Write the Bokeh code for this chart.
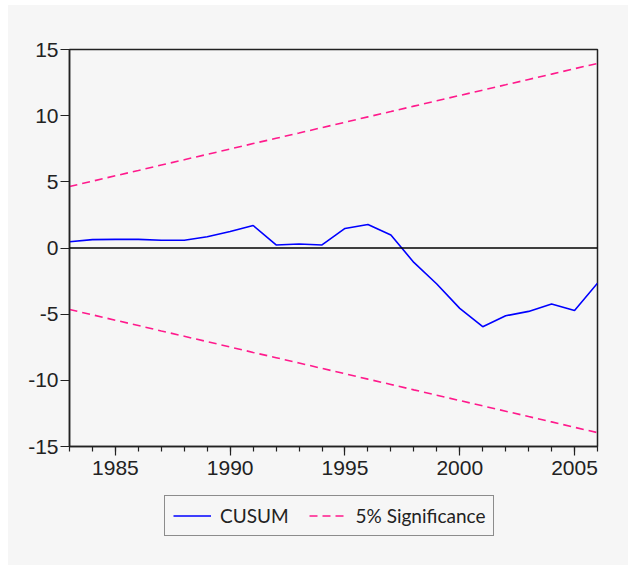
from bokeh.plotting import figure
from bokeh.models import (Legend, LegendItem, FixedTicker, SingleIntervalTicker,
                          Span, Range1d, PrintfTickFormatter)
from bokeh.layouts import column
from bokeh.embed import file_html
from bokeh.resources import INLINE

years = list(range(1983, 2007))
cusum = [0.47, 0.63, 0.65, 0.65, 0.58, 0.58, 0.85, 1.25, 1.70, 0.23, 0.30, 0.23,
         1.48, 1.78, 0.98, -1.09, -2.72, -4.56, -5.95, -5.12, -4.79, -4.23, -4.73, -2.66]
upper = [4.65, 5.05, 5.46, 5.86, 6.27, 6.67, 7.08, 7.48, 7.89, 8.29, 8.69, 9.10,
         9.50, 9.91, 10.31, 10.72, 11.12, 11.53, 11.93, 12.33, 12.74, 13.14, 13.55, 13.95]
lower = [-v for v in upper]
y_ticks = [-15, -10, -5, 0, 5, 10, 15]

BG = "#f6f6f6"
PINK = "#ff1a8c"
BLUE = "#0000ff"

p = figure(width=620, height=481, output_backend="svg", toolbar_location=None,
           x_range=Range1d(1983, 2006), y_range=Range1d(-15, 15),
           background_fill_color=BG, border_fill_color=BG,
           min_border_left=61, min_border_right=31, min_border_top=44, min_border_bottom=40)
p.grid.visible = False
p.outline_line_color = "#222222"
p.outline_line_width = 1.5

p.add_layout(Span(location=0, dimension="width", line_color="black", line_width=1.5))

p.line(years, cusum, line_color=BLUE, line_width=1.6)
p.line(years, upper, line_color=PINK, line_width=1.6, line_dash="8 5")
p.line(years, lower, line_color=PINK, line_width=1.6, line_dash="8 5")

for ax in (p.xaxis[0], p.yaxis[0]):
    ax.axis_line_color = "#222222"
    ax.axis_line_width = 1.5
    ax.major_tick_line_color = "#222222"
    ax.minor_tick_line_color = "#222222"
    ax.major_tick_line_width = 1.2
    ax.minor_tick_line_width = 1.2
    ax.major_tick_in = 0
    ax.minor_tick_in = 0
    ax.major_label_text_font = "Liberation Sans"
    ax.major_label_text_font_size = "21px"
    ax.major_label_text_color = "#222222"

p.xaxis.ticker = SingleIntervalTicker(interval=5, num_minor_ticks=5)
p.xaxis.major_tick_out = 9
p.xaxis.minor_tick_out = 5
p.xaxis.major_label_standoff = 5
p.yaxis.ticker = FixedTicker(ticks=y_ticks)
p.yaxis.formatter = PrintfTickFormatter(format="%d")
p.yaxis.major_tick_out = 9
p.yaxis.minor_tick_out = 0
p.yaxis.major_label_standoff = 2

# legend strip below the chart
q = figure(width=620, height=79, output_backend="svg", toolbar_location=None,
           x_range=Range1d(0, 1), y_range=Range1d(0, 1),
           background_fill_color=BG, border_fill_color=BG,
           x_axis_location=None, y_axis_location=None,
           min_border_left=0, min_border_right=0, min_border_top=0, min_border_bottom=0)
q.grid.visible = False
q.outline_line_color = None
g1 = q.line([-5, -4], [-5, -4], line_color=BLUE, line_width=1.6)
g2 = q.line([-5, -4], [-5, -4], line_color=PINK, line_width=1.6, line_dash="8 5")

legend = Legend(items=[LegendItem(label="CUSUM", renderers=[g1]),
                       LegendItem(label="5% Significance", renderers=[g2])],
                orientation="horizontal", location=(95, 29))
legend.glyph_width = 38
legend.glyph_height = 15
legend.label_standoff = 9
legend.spacing = 20
legend.padding = 8
legend.margin = 0
legend.border_line_color = "#222222"
legend.border_line_width = 1.2
legend.background_fill_color = BG
legend.label_text_font = "Lato"
legend.label_text_font_size = "19px"
legend.label_text_color = "#222222"
q.add_layout(legend, "center")

layout = column(p, q, spacing=0, margin=(5, 0, 0, 8), styles={"background-color": BG})
open("out.html", "w").write(file_html(layout, INLINE))
